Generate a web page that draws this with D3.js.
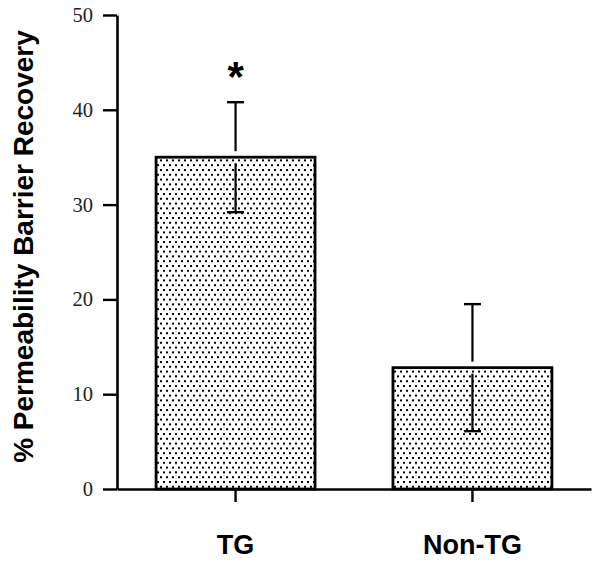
<!DOCTYPE html>
<html>
<head>
<meta charset="utf-8">
<script src="https://cdn.jsdelivr.net/npm/d3@7"></script>
<style>
  html, body { margin: 0; padding: 0; background: #fff; }
  svg { display: block; }
</style>
</head>
<body>
<svg id="chart" width="600" height="564"></svg>
<script>
const categories = ["TG", "Non-TG"];
const means = [35.0, 12.8];
const errors = [5.8, 6.7];
const significance = ["*", ""];
const yTicks = [0, 10, 20, 30, 40, 50];
const yLabel = "% Permeability Barrier Recovery";

const svg = d3.select("#chart");
const width = 600, height = 564;
const margin = { left: 117, right: 9, top: 15, bottom: 75 };

const x = d3.scaleBand()
  .domain(categories)
  .range([margin.left, width - margin.right])
  .paddingInner(0.329)
  .paddingOuter(0.165);

const y = d3.scaleLinear()
  .domain([0, 50])
  .range([height - margin.bottom, margin.top]);

// dotted pattern
const defs = svg.append("defs");
const pat = defs.append("pattern")
  .attr("id", "dots")
  .attr("patternUnits", "userSpaceOnUse")
  .attr("width", 6)
  .attr("height", 9.6)
  .attr("x", 1).attr("y", 1);
pat.append("rect").attr("width", 6).attr("height", 9.6).attr("fill", "#fff");
pat.append("rect").attr("x", 0).attr("y", 0).attr("width", 2).attr("height", 2).attr("fill", "#000");
pat.append("rect").attr("x", 3).attr("y", 4.8).attr("width", 2).attr("height", 2).attr("fill", "#000");

// bars
const data = categories.map((c, i) => ({ c, m: means[i], e: errors[i], s: significance[i] }));

svg.selectAll("rect.bar")
  .data(data)
  .enter().append("rect")
  .attr("class", "bar")
  .attr("x", d => x(d.c))
  .attr("y", d => y(d.m))
  .attr("width", x.bandwidth())
  .attr("height", d => y(0) - y(d.m))
  .attr("fill", "url(#dots)")
  .attr("stroke", "#000")
  .attr("stroke-width", 2.8);

// error bars (with small gap around the bar top)
const gap = 6;
const capW = 17;
const eb = svg.selectAll("g.err").data(data).enter().append("g").attr("class", "err");
eb.append("line")
  .attr("x1", d => x(d.c) + x.bandwidth() / 2)
  .attr("x2", d => x(d.c) + x.bandwidth() / 2)
  .attr("y1", d => y(d.m + d.e))
  .attr("y2", d => y(d.m) - gap)
  .attr("stroke", "#000").attr("stroke-width", 2.2);
eb.append("line")
  .attr("x1", d => x(d.c) + x.bandwidth() / 2)
  .attr("x2", d => x(d.c) + x.bandwidth() / 2)
  .attr("y1", d => y(d.m) + gap)
  .attr("y2", d => y(d.m - d.e))
  .attr("stroke", "#000").attr("stroke-width", 2.2);
eb.append("line")
  .attr("x1", d => x(d.c) + x.bandwidth() / 2 - capW / 2)
  .attr("x2", d => x(d.c) + x.bandwidth() / 2 + capW / 2)
  .attr("y1", d => y(d.m + d.e))
  .attr("y2", d => y(d.m + d.e))
  .attr("stroke", "#000").attr("stroke-width", 2.4);
eb.append("line")
  .attr("x1", d => x(d.c) + x.bandwidth() / 2 - capW / 2)
  .attr("x2", d => x(d.c) + x.bandwidth() / 2 + capW / 2)
  .attr("y1", d => y(d.m - d.e))
  .attr("y2", d => y(d.m - d.e))
  .attr("stroke", "#000").attr("stroke-width", 2.4);

// significance marks
svg.selectAll("text.sig")
  .data(data.filter(d => d.s))
  .enter().append("text")
  .attr("class", "sig")
  .attr("x", d => x(d.c) + x.bandwidth() / 2)
  .attr("y", d => y(d.m + d.e) - 11)
  .attr("text-anchor", "middle")
  .attr("font-family", "Liberation Sans, Arial, sans-serif")
  .attr("font-weight", "bold")
  .attr("font-size", 42)
  .text(d => d.s);

// y axis
const yAxis = svg.append("g")
  .attr("transform", `translate(${margin.left},0)`)
  .call(d3.axisLeft(y).tickValues(yTicks).tickSize(14).tickSizeOuter(0).tickPadding(10));
yAxis.select(".domain").attr("stroke", "#000").attr("stroke-width", 2.6);
yAxis.selectAll(".tick line").attr("stroke", "#000").attr("stroke-width", 2.4);
yAxis.selectAll(".tick text")
  .attr("font-family", "Liberation Serif, Times New Roman, serif")
  .attr("font-size", 20.5)
  .attr("fill", "#222");

// x axis
const xAxis = svg.append("g")
  .attr("transform", `translate(0,${y(0)})`)
  .call(d3.axisBottom(x).tickSize(13).tickSizeOuter(0).tickPadding(33));
xAxis.select(".domain").attr("stroke", "#000").attr("stroke-width", 2.6);
xAxis.selectAll(".tick line").attr("stroke", "#000").attr("stroke-width", 2.4);
xAxis.selectAll(".tick text")
  .attr("font-family", "Liberation Sans, Arial, sans-serif")
  .attr("font-weight", "bold")
  .attr("font-size", 27)
  .attr("fill", "#000");

// y label
svg.append("text")
  .attr("transform", `translate(33,${(32 + 461) / 2}) rotate(-90)`)
  .attr("text-anchor", "middle")
  .attr("font-family", "Liberation Sans, Arial, sans-serif")
  .attr("font-weight", "bold")
  .attr("font-size", 28)
  .attr("fill", "#000")
  .text(yLabel);
</script>
</body>
</html>
